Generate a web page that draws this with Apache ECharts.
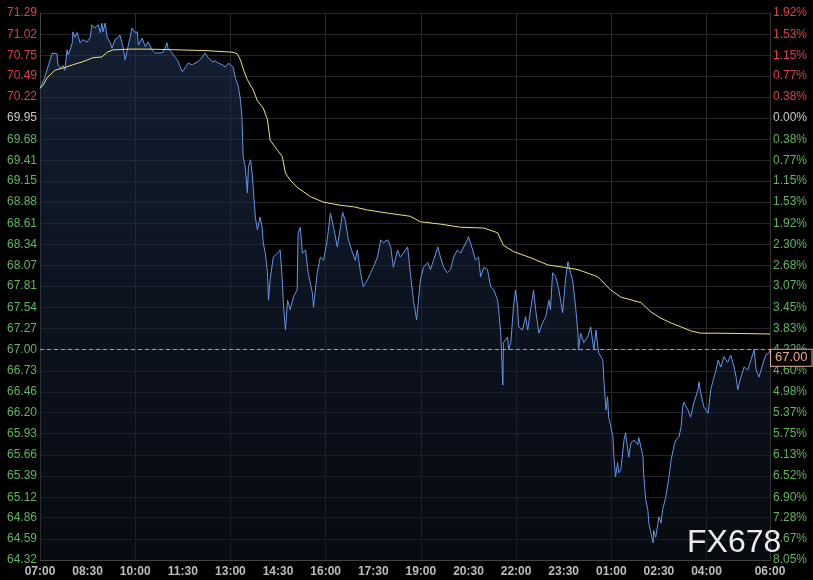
<!DOCTYPE html>
<html>
<head>
<meta charset="utf-8">
<script src="https://cdn.jsdelivr.net/npm/echarts@6/dist/echarts.min.js"></script>
<style>
html,body{margin:0;padding:0;background:#000;}
#main{width:813px;height:580px;}
</style>
</head>
<body>
<div id="main"></div>
<script>
// ---- data (minutes after 07:00, price) ----
const priceMinutes = [0,4,9,13,15,19,23,25,32,34,38,44,47,51,53,57,61,62,66,70,76,81,89,95,98,104,110,114,117,119,123,127,133,136,142,148,151,157,161,165,170,174,180,184,186,193,199,204,212,218,227,233,240,242,250,256,261,269,274,280,288,293,299,307,312,318,326,331,337,345,350,356,360,365,369,375,379,382,384,388,392,394,398,401,403,407,411,416,420,422,426,430,432,435,441,449,454,458,460,464,468,473,479,486,488,492,496,502,507,515,517,524,530,536,543,549,555,562,568,572,577,583,591,596,600,606,611,619,625,630,638,644,649,657,663,668,676,681,687,695,700,706,712,719,725,733,738,744,752,757,763,770,776,782,789,795,801,808,810,818,823,829,833,839,846,852,858,865,867,871,875,876,884,886,890,895,899,903,905,912,918,922,928,933,937,943,950,956,962,965,969,975,981,988,990,994,998,1003,1007,1013,1017,1018,1022,1028,1035,1041,1047,1051,1056,1064,1066,1070,1073,1075,1079,1083,1085,1088,1092,1094,1098,1104,1107,1113,1117,1123,1130,1132,1136,1140,1141,1145,1149,1151,1155,1159,1160,1164,1170,1174,1177,1183,1189,1193,1198,1202,1208,1212,1215,1217,1225,1230,1236,1244,1246,1249,1255,1263,1268,1274,1278,1282,1287,1293,1300,1306,1312,1316,1319,1325,1331,1338,1344,1350,1354,1359,1367,1372,1378,1380];
const priceValues = [70.33,70.39,70.47,70.56,70.54,70.69,70.78,70.79,70.77,70.63,
70.59,70.62,70.56,70.82,70.76,70.82,70.91,71.05,70.98,71.04,
70.91,70.95,70.92,70.98,71.14,71.10,71.14,71.04,71.16,71.05,
71.16,70.98,70.91,70.84,70.95,70.98,71.01,70.86,70.69,70.82,
70.97,71.10,71.04,71.05,70.88,70.97,70.86,70.92,70.82,70.78,
70.78,70.79,70.91,70.84,70.78,70.72,70.67,70.54,70.59,70.65,
70.63,70.65,70.67,70.73,70.78,70.72,70.67,70.68,70.65,70.63,
70.60,70.65,70.63,70.60,70.47,70.35,70.18,69.93,69.46,69.33,
69.00,69.33,69.42,69.25,69.07,68.69,68.53,68.69,68.56,68.36,
68.23,67.98,67.63,67.89,68.18,68.23,68.27,67.89,67.60,67.25,
67.63,67.51,67.67,67.76,68.49,68.56,68.23,68.27,67.98,67.72,
67.54,67.98,68.18,68.14,68.40,68.74,68.56,68.31,68.56,68.75,
68.65,68.40,68.23,68.14,68.27,67.98,67.80,67.89,67.98,68.05,
68.18,68.40,68.36,68.40,68.31,68.05,68.27,68.18,68.23,68.31,
67.98,67.63,67.38,67.89,68.05,68.11,68.02,68.14,68.31,68.18,
68.05,67.98,68.02,68.18,68.27,68.23,68.31,68.40,68.44,68.27,
68.14,68.18,67.93,68.05,68.02,67.80,67.76,67.63,67.51,67.21,
66.55,67.09,67.16,67.00,67.09,67.54,67.76,67.54,67.29,67.25,
67.42,67.25,67.54,67.76,67.51,67.21,67.34,67.42,67.63,67.51,
67.98,67.93,67.76,67.47,67.63,67.93,68.12,67.98,67.89,67.51,
67.21,67.00,67.21,67.09,67.16,67.29,67.00,67.25,66.96,66.87,
66.61,66.23,66.40,66.14,66.02,65.89,65.63,65.38,65.56,65.43,
65.47,65.85,65.94,65.63,65.81,65.85,65.79,65.88,65.76,65.63,
65.43,65.09,64.96,64.79,64.66,64.54,64.70,64.61,64.87,64.79,
64.96,65.12,65.38,65.59,65.76,65.85,65.89,66.02,66.27,66.33,
66.23,66.14,66.32,66.49,66.59,66.45,66.27,66.19,66.49,66.65,
66.74,66.87,66.78,66.91,66.84,66.93,66.78,66.65,66.49,66.65,
66.78,66.74,66.87,67.00,66.74,66.65,66.83,66.93,66.96,67.00];

const avgMinutes = [0,6,13,19,28,44,62,81,100,117,127,138,170,203,265,316,365,373,379,386,392,403,411,422,430,435,449,458,464,473,486,511,536,568,593,619,657,700,719,757,795,839,865,876,895,928,960,990,1017,1054,1079,1098,1136,1155,1174,1193,1212,1230,1249,1282,1283,1380];
const avgValues = [70.33,70.37,70.46,70.50,70.56,70.59,70.63,70.67,70.72,70.73,
70.79,70.82,70.83,70.83,70.82,70.81,70.79,70.77,70.69,70.54,
70.44,70.31,70.17,70.08,69.93,69.67,69.54,69.46,69.25,69.16,
69.07,68.95,68.88,68.84,68.82,68.78,68.74,68.70,68.63,68.60,
68.56,68.55,68.49,68.33,68.25,68.17,68.08,68.05,68.02,67.93,
67.76,67.67,67.60,67.48,67.40,67.34,67.29,67.24,67.21,67.21,
67.20,67.20];

const leftTicks = ['64.32','64.59','64.86','65.12','65.39','65.66','65.93','66.20','66.46','66.73','67.00','67.27','67.54','67.81','68.07','68.34','68.61','68.88','69.15','69.41','69.68','69.95','70.22','70.49','70.75','71.02','71.29'];
const rightTicks = ['8.05%','7.67%','7.28%','6.90%','6.52%','6.13%','5.75%','5.37%','4.98%','4.60%','4.22%','3.83%','3.45%','3.07%','2.68%','2.30%','1.92%','1.53%','1.15%','0.77%','0.38%','0.00%','0.38%','0.77%','1.15%','1.53%','1.92%'];
const timeLabelMinutes = [0,90,180,270,360,450,540,630,720,810,900,990,1080,1170,1260,1380];
const timeGridMinutes = [0,180,360,540,720,900,1080,1260,1380];
const refPrice = 69.95;
const lastPrice = 67.00;

// ---- helpers ----
const tickVals = leftTicks.map(Number);
function tickIndex(v){
  let best = 0, d = Infinity;
  tickVals.forEach((t,i)=>{ const dd = Math.abs(t - v); if (dd < d){ d = dd; best = i; } });
  return best;
}
function tickColor(v){
  const i = tickIndex(v), r = tickIndex(refPrice);
  if (i > r) return '#d9414c';
  if (i < r) return '#5fb65f';
  return '#c8c8c8';
}
function hhmm(m){
  const t = (7*60 + m) % 1440;
  const h = Math.floor(t/60), mm = t % 60;
  return (h<10?'0':'') + h + ':' + (mm<10?'0':'') + mm;
}
const priceData = priceMinutes.map((m,i)=>[m, priceValues[i]]);
const avgData = avgMinutes.map((m,i)=>[m, avgValues[i]]);

const chart = echarts.init(document.getElementById('main'), null, {renderer:'canvas'});
const yMin = tickVals[0], yMax = tickVals[tickVals.length-1];
const font = 'Liberation Sans, Arial, sans-serif';

chart.setOption({
  backgroundColor: '#000',
  animation: false,
  grid: {left: 40, right: 43, top: 13, bottom: 20, containLabel: false},
  xAxis: {
    type: 'value', min: 0, max: 1380,
    axisLine: {show: true, lineStyle: {color: '#444', width: 1}},
    axisTick: {show: false, customValues: timeGridMinutes},
    splitLine: {show: true, lineStyle: {color: '#2a2a2a', width: 1}},
    axisLabel: {
      customValues: timeLabelMinutes,
      formatter: v => hhmm(v),
      color: '#bdbdbd', fontSize: 12, fontFamily: font, fontWeight: 'bold', margin: 6
    }
  },
  yAxis: [{
    type: 'value', min: yMin, max: yMax, position: 'left',
    axisLine: {show: true, lineStyle: {color: '#444'}},
    axisTick: {show: false, customValues: tickVals},
    splitLine: {show: true, lineStyle: {color: '#262626', width: 1}},
    axisLabel: {
      customValues: tickVals,
      formatter: v => leftTicks[tickIndex(v)],
      color: v => tickColor(v),
      fontSize: 12, fontFamily: font, margin: 3
    }
  },{
    type: 'value', min: yMin, max: yMax, position: 'right',
    axisLine: {show: true, lineStyle: {color: '#333'}},
    axisTick: {show: false, customValues: tickVals},
    splitLine: {show: false},
    axisLabel: {
      customValues: tickVals,
      formatter: v => rightTicks[tickIndex(v)],
      color: v => tickColor(v),
      fontSize: 12, fontFamily: font, margin: 3
    }
  }],
  series: [{
    type: 'line', data: priceData, showSymbol: false, symbol: 'none',
    lineStyle: {color: '#6495e6', width: 1},
    areaStyle: {
      origin: 'start',
      color: new echarts.graphic.LinearGradient(0,0,0,1,[
        {offset: 0, color: 'rgba(32,52,84,0.85)'},
        {offset: 1, color: 'rgba(14,20,32,0.75)'}
      ])
    },
    markLine: {
      silent: true, symbol: ['none','none'],
      lineStyle: {color: '#e08a55', type: [4,3], width: 1},
      label: {
        show: true, position: 'end', formatter: lastPrice.toFixed(2),
        color: '#f2a484', fontSize: 13, fontFamily: font,
        backgroundColor: '#000', borderColor: '#e6ad92', borderWidth: 1,
        padding: [2,4,1,4], distance: 1, offset: [0, 8]
      },
      data: [{yAxis: lastPrice}]
    },
    z: 2
  },{
    type: 'line', data: avgData, showSymbol: false, symbol: 'none',
    lineStyle: {color: '#eee27c', width: 1}, z: 3
  }],
  graphic: [{
    type: 'text', left: 687, top: 527, z: 100,
    style: {text: 'FX678', fill: '#ececec', font: '32px Liberation Sans, Arial, sans-serif'}
  }]
});
</script>
</body>
</html>
